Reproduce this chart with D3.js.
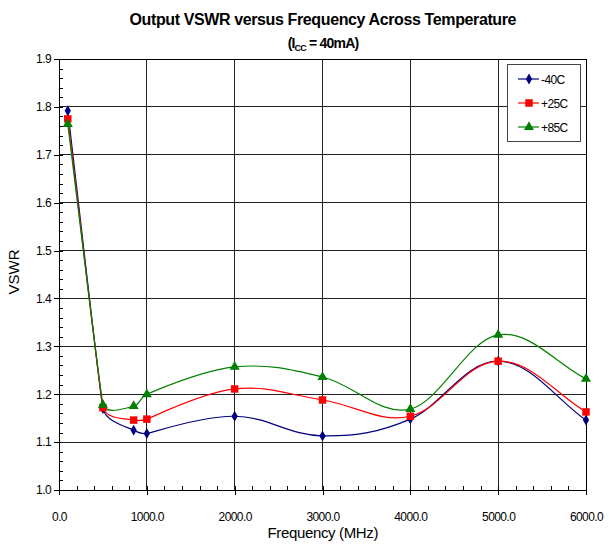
<!DOCTYPE html>
<html><head><meta charset="utf-8">
<script src="https://cdn.jsdelivr.net/npm/d3@7"></script>
<style>body{margin:0;background:#fff}svg{display:block;font-family:"Liberation Sans",Arial,sans-serif}</style>
</head><body><svg id="c" width="616" height="544"></svg>
<script>
const freqs = [100, 500, 850, 1000, 2000, 3000, 4000, 5000, 6000];
const vswrM40 = [1.792, 1.170, 1.125, 1.118, 1.154, 1.113, 1.148, 1.269, 1.146];
const vswrP25 = [1.775, 1.172, 1.146, 1.148, 1.211, 1.188, 1.154, 1.269, 1.163];
const vswrP85 = [1.764, 1.178, 1.175, 1.200, 1.257, 1.236, 1.169, 1.324, 1.232];
const seriesNames = ["-40C", "+25C", "+85C"];
const seriesColors = ["#000080", "#ff0000", "#008000"];
const xTicks = [0, 1000, 2000, 3000, 4000, 5000, 6000];
const yTicks = [1.0, 1.1, 1.2, 1.3, 1.4, 1.5, 1.6, 1.7, 1.8, 1.9];

const svg = d3.select("#c");
const L = 59, R = 586, T = 59, B = 490;
const x = d3.scaleLinear().domain([0, 6000]).range([L, R]);
const y = d3.scaleLinear().domain([1.0, 1.9]).range([B, T]);

// gridlines
const g = svg.append("g");
g.selectAll("line.vg").data(xTicks.slice(1)).join("line")
  .attr("x1", d => x(d)).attr("x2", d => x(d)).attr("y1", T).attr("y2", B)
  .attr("stroke", "#222").attr("stroke-width", 1).attr("shape-rendering", "crispEdges");
g.selectAll("line.hg").data(yTicks.slice(1)).join("line")
  .attr("x1", L).attr("x2", R).attr("y1", d => y(d)).attr("y2", d => y(d))
  .attr("stroke", "#222").attr("stroke-width", 1).attr("shape-rendering", "crispEdges");

// axes
const xMinor = d3.range(0, 6001, 200);
const yMinor = d3.range(0, 46).map(i => 1.0 + i * 0.02);
const xa = svg.append("g").attr("transform", `translate(0,${B})`)
  .call(d3.axisBottom(x).tickValues(xTicks).tickSize(5).tickFormat(d => d.toFixed(1)).tickPadding(17));
const xm = svg.append("g").attr("transform", `translate(0,${B})`)
  .call(d3.axisTop(x).tickValues(xMinor).tickSize(4).tickFormat(""));
const ya = svg.append("g").attr("transform", `translate(${L},0)`)
  .call(d3.axisLeft(y).tickValues(yTicks).tickSize(5).tickFormat(d => d.toFixed(1)).tickPadding(3));
const ym = svg.append("g").attr("transform", `translate(${L},0)`)
  .call(d3.axisRight(y).tickValues(yMinor).tickSize(4).tickFormat(""));
[xa, xm, ya, ym].forEach(a => {
  a.selectAll("path").attr("stroke", "#000").attr("shape-rendering", "crispEdges");
  a.selectAll("line").attr("stroke", "#000").attr("shape-rendering", "crispEdges");
  a.selectAll("text").attr("font-size", 12).attr("fill", "#000")
    .attr("font-family", "'Liberation Sans', Arial, sans-serif").attr("letter-spacing", "-0.6");
});
// frame top/right
svg.append("line").attr("x1", L).attr("x2", R).attr("y1", T).attr("y2", T).attr("stroke", "#000").attr("shape-rendering", "crispEdges");
svg.append("line").attr("x1", R).attr("x2", R).attr("y1", T).attr("y2", B).attr("stroke", "#000").attr("shape-rendering", "crispEdges");

// smooth path (tangent from neighbours, handle length limited by the shorter adjacent segment)
function smoothPath(pts) {
  const p = d3.path();
  const n = pts.length;
  const dist = (a, b) => Math.hypot(b[0] - a[0], b[1] - a[1]);
  const handle = pts.map((pt, i) => {
    if (i === 0 || i === n - 1) return null;
    const a = pts[i - 1], b = pts[i + 1];
    const tx = b[0] - a[0], ty = b[1] - a[1], tl = Math.hypot(tx, ty);
    const dp = dist(a, pt), dn = dist(pt, b);
    const len = Math.min(dp, dn) * tl / (dp + dn) / 2.6;
    return [tx / tl * len, ty / tl * len];
  });
  p.moveTo(pts[0][0], pts[0][1]);
  for (let i = 0; i < n - 1; i++) {
    const P0 = pts[i], P1 = pts[i + 1];
    const c1 = handle[i] ? [P0[0] + handle[i][0], P0[1] + handle[i][1]]
      : [P0[0] + (P1[0] - P0[0]) / 3, P0[1] + (P1[1] - P0[1]) / 3];
    const c2 = handle[i + 1] ? [P1[0] - handle[i + 1][0], P1[1] - handle[i + 1][1]]
      : [P1[0] - (P1[0] - P0[0]) / 3, P1[1] - (P1[1] - P0[1]) / 3];
    p.bezierCurveTo(c1[0], c1[1], c2[0], c2[1], P1[0], P1[1]);
  }
  return p.toString();
}

// series
const allVals = [vswrM40, vswrP25, vswrP85];
const sym = [d3.symbolDiamond, d3.symbolSquare, d3.symbolTriangle];
const symSize = [34, 56, 44];
function drawMarker(sel, i, cx, cy) {
  sel.append("path").attr("d", d3.symbol().type(sym[i]).size(symSize[i])())
    .attr("transform", `translate(${cx},${cy})`).attr("fill", seriesColors[i]);
}
allVals.forEach((vals, i) => {
  const pts = freqs.map((f, k) => [x(f), y(vals[k])]);
  svg.append("path").attr("d", smoothPath(pts)).attr("fill", "none")
    .attr("stroke", seriesColors[i]).attr("stroke-width", 1.2);
});
allVals.forEach((vals, i) => {
  const gg = svg.append("g");
  freqs.forEach((f, k) => drawMarker(gg, i, x(f), y(vals[k])));
});

// legend
svg.append("rect").attr("x", 507.5).attr("y", 64.5).attr("width", 73).attr("height", 77)
  .attr("fill", "#fff").attr("stroke", "#444");
seriesNames.forEach((n, i) => {
  const ly = 79 + i * 24;
  svg.append("line").attr("x1", 518).attr("x2", 539).attr("y1", ly).attr("y2", ly)
    .attr("stroke", seriesColors[i]).attr("stroke-width", 1.2);
  drawMarker(svg, i, 529, ly);
  svg.append("text").attr("x", 541).attr("y", ly + 4.5).attr("font-size", 12)
    .attr("letter-spacing", "-0.6").text(n);
});

// titles
svg.append("text").attr("x", 323).attr("y", 25).attr("text-anchor", "middle")
  .attr("font-size", 16).attr("font-weight", "bold")
  .attr("textLength", 387).attr("lengthAdjust", "spacing")
  .text("Output VSWR versus Frequency Across Temperature");
const st = svg.append("text").attr("x", 323).attr("y", 48).attr("text-anchor", "middle")
  .attr("font-size", 14).attr("font-weight", "bold").attr("letter-spacing", "-0.8");
st.append("tspan").text("(I");
st.append("tspan").attr("font-size", 9).attr("dy", 3).text("CC");
st.append("tspan").attr("dy", -3).text(" = 40mA)");
svg.append("text").attr("x", 323).attr("y", 538).attr("text-anchor", "middle")
  .attr("font-size", 15).attr("textLength", 111).attr("lengthAdjust", "spacing").text("Frequency (MHz)");
svg.append("text").attr("transform", "translate(19,272) rotate(-90)").attr("text-anchor", "middle")
  .attr("font-size", 15).text("VSWR");
</script></body></html>
